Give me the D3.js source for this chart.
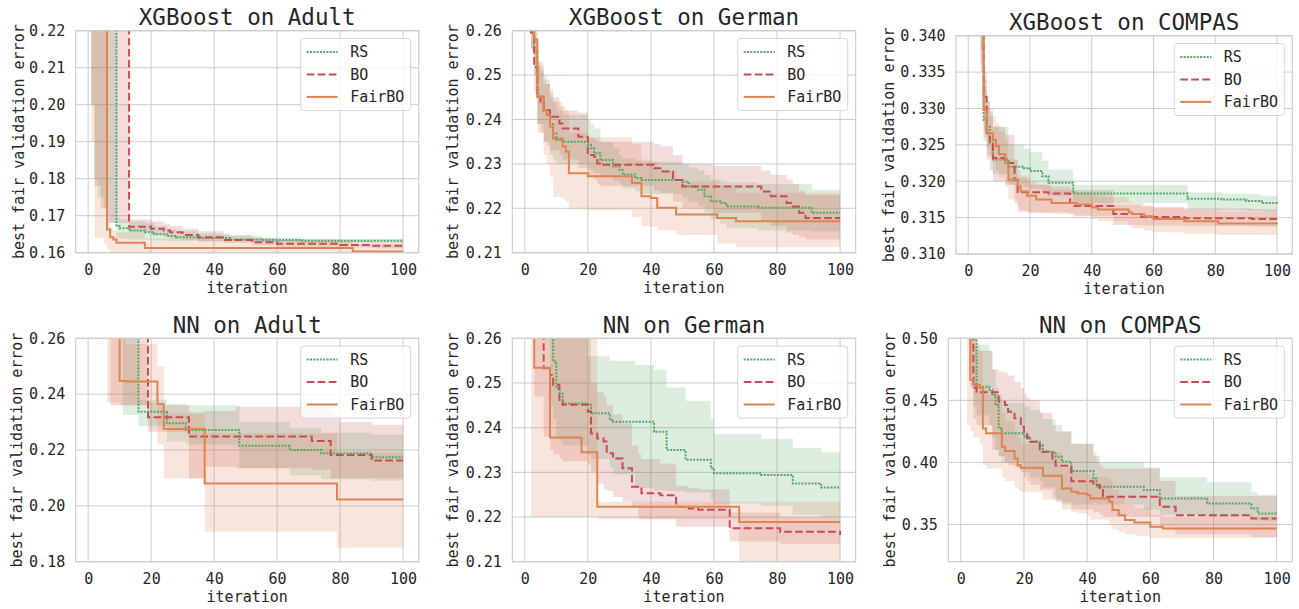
<!DOCTYPE html>
<html lang="en">

<head>
    <meta charset="UTF-8">
    <title>best fair validation error vs iteration</title>
    <style>
        * {
            margin: 0;
            padding: 0;
        }

        body {
            background: #fff;
        }

        text {
            font-family: 'DejaVu Sans Mono', monospace;
        }
    </style>
</head>

<body>
    <div id="chart"></div>
    <script src="https://cdn.jsdelivr.net/npm/d3@7"></script>
    <script>
        // each row: [iteration, mean, lower, upper]  (step changes)
        const iterTicks = [0, 20, 40, 60, 80, 100]
        const methods = ['RS', 'BO', 'FairBO']

        // XGBoost on Adult
        const xgbAdultRS = [
            [1, 0.30, 0.200, 0.40], [2, 0.30, 0.180, 0.40], [3, 0.30, 0.175, 0.40], [5, 0.30, 0.172, 0.40],
            [7, 0.28, 0.168, 0.40], [9, 0.1672, 0.1640, 0.1695], [10, 0.1666, 0.1638, 0.1690],
            [13, 0.1660, 0.1636, 0.1685], [18, 0.1655, 0.1635, 0.1680], [21, 0.1650, 0.1633, 0.1672],
            [25, 0.1645, 0.1632, 0.1665], [28, 0.1642, 0.1632, 0.1658], [35, 0.1640, 0.1631, 0.1652],
            [45, 0.1636, 0.1630, 0.1645], [55, 0.1634, 0.1629, 0.1641], [68, 0.1632, 0.1628, 0.1638],
            [100, 0.1631, 0.1627, 0.1636]
        ]
        const xgbAdultBO = [
            [1, 0.30, 0.200, 0.40], [2, 0.30, 0.178, 0.40], [4, 0.30, 0.172, 0.40], [6, 0.30, 0.168, 0.40],
            [13, 0.1670, 0.1655, 0.1690], [20, 0.1665, 0.1648, 0.1685], [24, 0.1660, 0.1642, 0.1678],
            [26, 0.1655, 0.1638, 0.1672], [30, 0.1648, 0.1634, 0.1665], [35, 0.1642, 0.1630, 0.1658],
            [43, 0.1634, 0.1626, 0.1648], [52, 0.1628, 0.1620, 0.1640], [60, 0.1624, 0.1616, 0.1635],
            [80, 0.1621, 0.1614, 0.1632], [90, 0.1619, 0.1612, 0.1630], [100, 0.1618, 0.1612, 0.1630]
        ]
        const xgbAdultFair = [
            [1, 0.30, 0.190, 0.40], [2, 0.30, 0.1640, 0.40], [5, 0.30, 0.1625, 0.40],
            [6, 0.1663, 0.1610, 0.1720], [7, 0.1642, 0.1600, 0.1668], [8, 0.1636, 0.1598, 0.1660],
            [9, 0.1627, 0.1596, 0.1655], [18, 0.1613, 0.1590, 0.1638], [40, 0.1613, 0.1590, 0.1632],
            [84, 0.1603, 0.1590, 0.1622], [100, 0.1603, 0.1590, 0.1620]
        ]

        // XGBoost on German
        const xgbGermanRS = [
            [1, 0.27, 0.262, 0.28], [2, 0.2600, 0.2560, 0.2640], [3, 0.2555, 0.2500, 0.2610],
            [4, 0.2451, 0.2390, 0.2520], [6, 0.2421, 0.2350, 0.2490], [7, 0.2413, 0.2340, 0.2480],
            [8, 0.2390, 0.2320, 0.2460], [9, 0.2369, 0.2310, 0.2440], [10, 0.2354, 0.2300, 0.2420],
            [12, 0.2350, 0.2300, 0.2410], [20, 0.2343, 0.2290, 0.2400], [21, 0.2335, 0.2285, 0.2390],
            [22, 0.2324, 0.2280, 0.2380], [24, 0.2309, 0.2270, 0.2350], [28, 0.2294, 0.2262, 0.2335],
            [30, 0.2287, 0.2255, 0.2320], [31, 0.2276, 0.2245, 0.2312], [35, 0.2268, 0.2238, 0.2308],
            [37, 0.2264, 0.2232, 0.2305], [50, 0.2260, 0.2225, 0.2300], [52, 0.2249, 0.2215, 0.2292],
            [55, 0.2242, 0.2205, 0.2285], [57, 0.2227, 0.2190, 0.2275], [59, 0.2216, 0.2175, 0.2265],
            [62, 0.2212, 0.2165, 0.2262], [64, 0.2204, 0.2155, 0.2258], [74, 0.2201, 0.2150, 0.2255],
            [91, 0.2190, 0.2148, 0.2242], [100, 0.2190, 0.2148, 0.2240]
        ]
        const xgbGermanBO = [
            [1, 0.27, 0.262, 0.28], [2, 0.2596, 0.2560, 0.2640], [3, 0.2518, 0.2460, 0.2580],
            [4, 0.2451, 0.2390, 0.2530], [5, 0.2440, 0.2370, 0.2510], [6, 0.2421, 0.2350, 0.2480],
            [8, 0.2406, 0.2330, 0.2450], [11, 0.2391, 0.2320, 0.2430], [12, 0.2380, 0.2310, 0.2420],
            [17, 0.2361, 0.2290, 0.2415], [20, 0.2320, 0.2270, 0.2360], [22, 0.2316, 0.2265, 0.2355],
            [23, 0.2301, 0.2255, 0.2350], [24, 0.2298, 0.2250, 0.2350], [41, 0.2290, 0.2240, 0.2345],
            [43, 0.2283, 0.2235, 0.2340], [47, 0.2264, 0.2215, 0.2320], [50, 0.2249, 0.2200, 0.2300],
            [60, 0.2249, 0.2190, 0.2295], [75, 0.2238, 0.2170, 0.2285], [78, 0.2227, 0.2160, 0.2275],
            [83, 0.2212, 0.2145, 0.2265], [85, 0.2204, 0.2140, 0.2255], [87, 0.2190, 0.2135, 0.2240],
            [89, 0.2178, 0.2130, 0.2230], [100, 0.2178, 0.2128, 0.2225]
        ]
        const xgbGermanFair = [
            [1, 0.27, 0.262, 0.28], [2, 0.2620, 0.2560, 0.2680], [3, 0.2580, 0.2500, 0.2640],
            [4, 0.2451, 0.2370, 0.2530], [6, 0.2421, 0.2320, 0.2500], [7, 0.2410, 0.2300, 0.2490],
            [8, 0.2384, 0.2270, 0.2470], [9, 0.2357, 0.2225, 0.2440], [12, 0.2339, 0.2222, 0.2430],
            [13, 0.2328, 0.2215, 0.2420], [14, 0.2279, 0.2198, 0.2370], [20, 0.2272, 0.2195, 0.2360],
            [34, 0.2257, 0.2180, 0.2345], [37, 0.2227, 0.2160, 0.2310], [40, 0.2223, 0.2158, 0.2305],
            [42, 0.2201, 0.2150, 0.2285], [48, 0.2186, 0.2140, 0.2260], [61, 0.2178, 0.2120, 0.2250],
            [67, 0.2171, 0.2112, 0.2235], [100, 0.2171, 0.2115, 0.2225]
        ]

        // XGBoost on COMPAS
        const xgbCompasRS = [
            [1, 0.36, 0.345, 0.38], [4, 0.3450, 0.3380, 0.3520], [5, 0.3284, 0.3255, 0.3330],
            [6, 0.3275, 0.3245, 0.3310], [7, 0.3261, 0.3235, 0.3295], [8, 0.3230, 0.3210, 0.3275],
            [13, 0.3220, 0.3195, 0.3250], [18, 0.3218, 0.3192, 0.3245], [20, 0.3214, 0.3190, 0.3240],
            [24, 0.3207, 0.3185, 0.3228], [26, 0.3198, 0.3180, 0.3216], [34, 0.3183, 0.3170, 0.3195],
            [71, 0.3176, 0.3160, 0.3185], [82, 0.3175, 0.3160, 0.3183], [90, 0.3173, 0.3159, 0.3182],
            [95, 0.3170, 0.3158, 0.3180], [100, 0.3169, 0.3157, 0.3180]
        ]
        const xgbCompasBO = [
            [1, 0.36, 0.345, 0.38], [4, 0.3450, 0.3360, 0.3520], [5, 0.3316, 0.3270, 0.3350],
            [6, 0.3266, 0.3230, 0.3310], [7, 0.3252, 0.3215, 0.3290], [8, 0.3232, 0.3200, 0.3275],
            [12, 0.3225, 0.3195, 0.3264], [15, 0.3202, 0.3170, 0.3230], [16, 0.3185, 0.3158, 0.3205],
            [20, 0.3185, 0.3157, 0.3195], [26, 0.3183, 0.3157, 0.3193], [33, 0.3170, 0.3155, 0.3190],
            [34, 0.3166, 0.3152, 0.3188], [47, 0.3155, 0.3140, 0.3168], [56, 0.3151, 0.3139, 0.3165],
            [70, 0.3149, 0.3138, 0.3163], [92, 0.3148, 0.3137, 0.3162], [100, 0.3148, 0.3137, 0.3162]
        ]
        const xgbCompasFair = [
            [1, 0.36, 0.345, 0.38], [4, 0.3450, 0.3350, 0.3520], [5, 0.3298, 0.3260, 0.3340],
            [6, 0.3266, 0.3235, 0.3300], [8, 0.3257, 0.3225, 0.3290], [9, 0.3248, 0.3215, 0.3280],
            [10, 0.3237, 0.3205, 0.3268], [12, 0.3225, 0.3192, 0.3255], [13, 0.3202, 0.3175, 0.3230],
            [16, 0.3193, 0.3165, 0.3215], [17, 0.3186, 0.3160, 0.3208], [19, 0.3180, 0.3157, 0.3200],
            [22, 0.3175, 0.3156, 0.3195], [27, 0.3170, 0.3155, 0.3188], [35, 0.3168, 0.3153, 0.3185],
            [40, 0.3164, 0.3148, 0.3180], [42, 0.3161, 0.3145, 0.3178], [52, 0.3157, 0.3138, 0.3172],
            [53, 0.3155, 0.3135, 0.3170], [57, 0.3152, 0.3132, 0.3167], [60, 0.3148, 0.3130, 0.3163],
            [70, 0.3145, 0.3128, 0.3160], [81, 0.3142, 0.3126, 0.3158], [100, 0.3141, 0.3125, 0.3157]
        ]

        // NN on Adult
        const nnAdultRS = [
            [1, 0.30, 0.28, 0.32], [11, 0.2700, 0.2325, 0.3000], [16, 0.2337, 0.2285, 0.2380],
            [25, 0.2296, 0.2230, 0.2365], [31, 0.2272, 0.2220, 0.2360], [48, 0.2215, 0.2135, 0.2300],
            [64, 0.2200, 0.2110, 0.2280], [74, 0.2188, 0.2095, 0.2262], [90, 0.2174, 0.2090, 0.2255],
            [100, 0.2174, 0.2090, 0.2255]
        ]
        const nnAdultBO = [
            [1, 0.30, 0.28, 0.32], [7, 0.2800, 0.2360, 0.3000], [19, 0.2317, 0.2265, 0.2370],
            [21, 0.2317, 0.2265, 0.2360], [32, 0.2248, 0.2098, 0.2335], [37, 0.2248, 0.2140, 0.2340],
            [47, 0.2248, 0.2135, 0.2355], [71, 0.2232, 0.2130, 0.2350], [77, 0.2182, 0.2099, 0.2330],
            [80, 0.2182, 0.2099, 0.2300], [90, 0.2162, 0.2099, 0.2290], [100, 0.2162, 0.2099, 0.2290]
        ]
        const nnAdultFair = [
            [1, 0.30, 0.28, 0.32], [6, 0.2800, 0.2370, 0.3000], [10, 0.2447, 0.2360, 0.2600],
            [12, 0.2445, 0.2360, 0.2580], [22, 0.2365, 0.2220, 0.2500], [24, 0.2275, 0.2098, 0.2330],
            [37, 0.2080, 0.1907, 0.2260], [79, 0.2023, 0.1850, 0.2190], [100, 0.2023, 0.1850, 0.2190]
        ]

        // NN on German
        const nnGermanRS = [
            [1, 0.28, 0.27, 0.29], [8, 0.2700, 0.2450, 0.2900], [9, 0.2548, 0.2420, 0.2700],
            [10, 0.2488, 0.2380, 0.2650], [11, 0.2477, 0.2370, 0.2640], [12, 0.2454, 0.2360, 0.2620],
            [20, 0.2451, 0.2340, 0.2600], [21, 0.2432, 0.2330, 0.2560], [27, 0.2417, 0.2310, 0.2550],
            [28, 0.2413, 0.2295, 0.2550], [35, 0.2413, 0.2265, 0.2540], [41, 0.2391, 0.2260, 0.2530],
            [45, 0.2350, 0.2258, 0.2490], [51, 0.2328, 0.2255, 0.2460], [59, 0.2309, 0.2240, 0.2420],
            [60, 0.2298, 0.2230, 0.2385], [75, 0.2294, 0.2225, 0.2375], [85, 0.2275, 0.2205, 0.2355],
            [94, 0.2266, 0.2200, 0.2345], [100, 0.2266, 0.2200, 0.2345]
        ]
        const nnGermanBO = [
            [1, 0.28, 0.27, 0.29], [3, 0.2700, 0.2470, 0.2900], [6, 0.2533, 0.2380, 0.2680],
            [8, 0.2518, 0.2350, 0.2650], [9, 0.2496, 0.2340, 0.2630], [11, 0.2458, 0.2330, 0.2600],
            [12, 0.2451, 0.2325, 0.2600], [20, 0.2436, 0.2318, 0.2560], [21, 0.2387, 0.2300, 0.2500],
            [23, 0.2376, 0.2275, 0.2480], [25, 0.2369, 0.2262, 0.2470], [26, 0.2343, 0.2258, 0.2450],
            [28, 0.2331, 0.2245, 0.2430], [31, 0.2309, 0.2235, 0.2410], [34, 0.2268, 0.2220, 0.2360],
            [36, 0.2268, 0.2197, 0.2340], [37, 0.2253, 0.2195, 0.2330], [43, 0.2249, 0.2195, 0.2320],
            [48, 0.2223, 0.2178, 0.2270], [52, 0.2219, 0.2178, 0.2265], [55, 0.2216, 0.2178, 0.2262],
            [65, 0.2175, 0.2145, 0.2210], [81, 0.2167, 0.2140, 0.2200], [100, 0.2160, 0.2130, 0.2195]
        ]
        const nnGermanFair = [
            [1, 0.28, 0.27, 0.29], [2, 0.2700, 0.2200, 0.2900], [3, 0.2534, 0.2200, 0.2800],
            [8, 0.2378, 0.2200, 0.2650], [18, 0.2345, 0.2200, 0.2600], [23, 0.2223, 0.2195, 0.2234],
            [68, 0.2189, 0.2080, 0.2234], [100, 0.2189, 0.2080, 0.2234]
        ]

        // NN on COMPAS
        const nnCompasRS = [
            [1, 0.55, 0.52, 0.58], [3, 0.5200, 0.4700, 0.5500], [4, 0.5000, 0.4450, 0.5200],
            [5, 0.4610, 0.4380, 0.4950], [9, 0.4583, 0.4300, 0.4900], [10, 0.4543, 0.4200, 0.4750],
            [11, 0.4462, 0.4100, 0.4600], [12, 0.4274, 0.4050, 0.4520], [13, 0.4234, 0.4000, 0.4480],
            [20, 0.4207, 0.3920, 0.4450], [22, 0.4167, 0.3880, 0.4420], [25, 0.4140, 0.3850, 0.4400],
            [26, 0.4086, 0.3800, 0.4350], [30, 0.4046, 0.3700, 0.4300], [32, 0.4005, 0.3660, 0.4250],
            [35, 0.3930, 0.3660, 0.4150], [42, 0.3871, 0.3680, 0.4080], [43, 0.3804, 0.3660, 0.4000],
            [58, 0.3777, 0.3620, 0.3960], [63, 0.3710, 0.3580, 0.3880], [78, 0.3669, 0.3560, 0.3840],
            [92, 0.3629, 0.3550, 0.3760], [94, 0.3589, 0.3530, 0.3740], [100, 0.3580, 0.3520, 0.3730]
        ]
        const nnCompasBO = [
            [1, 0.55, 0.52, 0.58], [3, 0.5200, 0.4600, 0.5500], [4, 0.4602, 0.4350, 0.5000],
            [5, 0.4565, 0.4300, 0.4900], [10, 0.4565, 0.4100, 0.4750], [12, 0.4489, 0.4050, 0.4730],
            [14, 0.4462, 0.4000, 0.4720], [15, 0.4409, 0.3980, 0.4700], [17, 0.4355, 0.3960, 0.4650],
            [19, 0.4288, 0.3920, 0.4600], [20, 0.4247, 0.3880, 0.4550], [21, 0.4194, 0.3850, 0.4520],
            [22, 0.4167, 0.3820, 0.4500], [25, 0.4086, 0.3780, 0.4400], [29, 0.4032, 0.3720, 0.4300],
            [30, 0.3973, 0.3680, 0.4250], [35, 0.3849, 0.3620, 0.4150], [42, 0.3817, 0.3600, 0.4050],
            [44, 0.3777, 0.3580, 0.3980], [45, 0.3723, 0.3560, 0.3950], [63, 0.3642, 0.3480, 0.3850],
            [68, 0.3575, 0.3420, 0.3730], [92, 0.3548, 0.3400, 0.3730], [100, 0.3548, 0.3400, 0.3730]
        ]
        const nnCompasFair = [
            [1, 0.55, 0.52, 0.58], [2, 0.5200, 0.4300, 0.5500], [3, 0.4664, 0.4250, 0.5000],
            [4, 0.4624, 0.4200, 0.4950], [6, 0.4602, 0.4150, 0.4900], [7, 0.4274, 0.3980, 0.4600],
            [8, 0.4234, 0.3950, 0.4550], [13, 0.4126, 0.3880, 0.4400], [14, 0.4091, 0.3850, 0.4330],
            [17, 0.4032, 0.3800, 0.4250], [18, 0.3978, 0.3780, 0.4200], [19, 0.3957, 0.3760, 0.4150],
            [26, 0.3892, 0.3700, 0.4080], [32, 0.3790, 0.3620, 0.3960], [35, 0.3763, 0.3600, 0.3930],
            [37, 0.3750, 0.3590, 0.3920], [40, 0.3737, 0.3570, 0.3900], [41, 0.3710, 0.3540, 0.3880],
            [47, 0.3683, 0.3500, 0.3860], [48, 0.3616, 0.3460, 0.3780], [50, 0.3575, 0.3440, 0.3720],
            [52, 0.3535, 0.3420, 0.3660], [55, 0.3516, 0.3410, 0.3630], [60, 0.3481, 0.3390, 0.3580],
            [64, 0.3468, 0.3390, 0.3560], [100, 0.3468, 0.3390, 0.3550]
        ]

        const titles = ['XGBoost on Adult', 'XGBoost on German', 'XGBoost on COMPAS',
            'NN on Adult', 'NN on German', 'NN on COMPAS']
        const yDomains = [[0.16, 0.22], [0.21, 0.26], [0.31, 0.34], [0.18, 0.26], [0.21, 0.26], [0.32, 0.50]]
        const yTickValues = [
            [0.16, 0.17, 0.18, 0.19, 0.20, 0.21, 0.22],
            [0.21, 0.22, 0.23, 0.24, 0.25, 0.26],
            [0.310, 0.315, 0.320, 0.325, 0.330, 0.335, 0.340],
            [0.18, 0.20, 0.22, 0.24, 0.26],
            [0.21, 0.22, 0.23, 0.24, 0.25, 0.26],
            [0.35, 0.40, 0.45, 0.50]
        ]
        const yTickFormats = ['.2f', '.2f', '.3f', '.2f', '.2f', '.2f']
        const seriesData = [
            [xgbAdultRS, xgbAdultBO, xgbAdultFair],
            [xgbGermanRS, xgbGermanBO, xgbGermanFair],
            [xgbCompasRS, xgbCompasBO, xgbCompasFair],
            [nnAdultRS, nnAdultBO, nnAdultFair],
            [nnGermanRS, nnGermanBO, nnGermanFair],
            [nnCompasRS, nnCompasBO, nnCompasFair]
        ]

        const width = 1299
        const height = 609

        // plot boxes of the six panels (each panel was its own figure)
        const frames = [
            { left: 75.7, right: 418.7, top: 30.7, bottom: 252.7, ylab: 24 },
            { left: 512.3, right: 855.7, top: 30.7, bottom: 252.7, ylab: 458 },
            { left: 956, right: 1292.3, top: 35.7, bottom: 254, ylab: 894 },
            { left: 75.7, right: 418.7, top: 338.3, bottom: 561.7, ylab: 22 },
            { left: 512.3, right: 855.7, top: 338.3, bottom: 561.7, ylab: 458 },
            { left: 948.3, right: 1292.3, top: 338.3, bottom: 561.7, ylab: 895 }
        ]

        const colors = { RS: '#55a868', BO: '#c44e52', FairBO: '#dd8452' }
        const dashes = { RS: '2,1.3', BO: '7.7,3.3', FairBO: null }
        const gridColor = '#cccccc'
        const textColor = '#262626'

        const svg = d3.select('#chart')
            .append('svg')
            .attr('width', width)
            .attr('height', height)
            .style('background', '#fff')

        const defs = svg.append('defs')

        titles.forEach((title, i) => {
            const f = frames[i]
            const x = d3.scaleLinear().domain([-3.95, 104.95]).range([f.left, f.right])
            const y = d3.scaleLinear().domain(yDomains[i]).range([f.bottom, f.top])
            const g = svg.append('g')

            defs.append('clipPath').attr('id', `clip${i}`)
                .append('rect')
                .attr('x', f.left).attr('y', f.top)
                .attr('width', f.right - f.left).attr('height', f.bottom - f.top)

            // grid
            g.append('g').selectAll('line')
                .data(iterTicks)
                .join('line')
                .attr('x1', d => x(d)).attr('x2', d => x(d))
                .attr('y1', f.top).attr('y2', f.bottom)
                .attr('stroke', gridColor).attr('stroke-width', 1)
            g.append('g').selectAll('line')
                .data(yTickValues[i])
                .join('line')
                .attr('x1', f.left).attr('x2', f.right)
                .attr('y1', d => y(d)).attr('y2', d => y(d))
                .attr('stroke', gridColor).attr('stroke-width', 1)

            // bands then lines
            const plot = g.append('g').attr('clip-path', `url(#clip${i})`)
            const area = d3.area()
                .curve(d3.curveStepAfter)
                .x(d => x(d[0]))
                .y0(d => y(d[2]))
                .y1(d => y(d[3]))
            const line = d3.line()
                .curve(d3.curveStepAfter)
                .x(d => x(d[0]))
                .y(d => y(d[1]))

            methods.forEach((m, k) => {
                plot.append('path')
                    .attr('d', area(seriesData[i][k]))
                    .attr('fill', colors[m])
                    .attr('fill-opacity', 0.2)
            })
            methods.forEach((m, k) => {
                plot.append('path')
                    .attr('d', line(seriesData[i][k]))
                    .attr('fill', 'none')
                    .attr('stroke', colors[m])
                    .attr('stroke-width', 2)
                    .attr('stroke-dasharray', dashes[m])
            })

            // frame
            g.append('rect')
                .attr('x', f.left).attr('y', f.top)
                .attr('width', f.right - f.left).attr('height', f.bottom - f.top)
                .attr('fill', 'none')
                .attr('stroke', gridColor)
                .attr('stroke-width', 1.2)

            // axes
            const xAxis = g.append('g')
                .attr('transform', `translate(0, ${f.bottom})`)
                .call(d3.axisBottom(x).tickValues(iterTicks).tickFormat(d3.format('d')).tickSize(0).tickPadding(11.5))
            const yAxis = g.append('g')
                .attr('transform', `translate(${f.left}, 0)`)
                .call(d3.axisLeft(y).tickValues(yTickValues[i]).tickFormat(d3.format(yTickFormats[i])).tickSize(0).tickPadding(10.5))
            ;[xAxis, yAxis].forEach(a => {
                a.select('.domain').remove()
                a.selectAll('text')
                    .attr('fill', textColor)
                    .style('font-size', '15px')
                    .style('font-family', "'DejaVu Sans Mono', monospace")
            })

            // labels
            g.append('text')
                .attr('x', (f.left + f.right) / 2)
                .attr('y', f.top - 5.5)
                .attr('text-anchor', 'middle')
                .attr('fill', textColor)
                .style('font-size', '22.5px')
                .text(title)

            g.append('text')
                .attr('x', (f.left + f.right) / 2)
                .attr('y', f.bottom + 40)
                .attr('text-anchor', 'middle')
                .attr('fill', textColor)
                .style('font-size', '15px')
                .text('iteration')

            g.append('text')
                .attr('transform', `translate(${f.ylab}, ${(f.top + f.bottom) / 2}) rotate(-90)`)
                .attr('text-anchor', 'middle')
                .attr('fill', textColor)
                .style('font-size', '15px')
                .text('best fair validation error')

            // legend
            const lw = 110
            const lh = 72
            const legend = g.append('g')
                .attr('transform', `translate(${f.right - 8 - lw}, ${f.top + 7.8})`)
            legend.append('rect')
                .attr('width', lw).attr('height', lh)
                .attr('rx', 3)
                .attr('fill', '#fff').attr('fill-opacity', 0.8)
                .attr('stroke', '#d6d6d6')
            const rows = legend.selectAll('g.row')
                .data(methods)
                .join('g')
                .attr('class', 'row')
                .attr('transform', (d, k) => `translate(0, ${13.4 + k * 22.5})`)
            rows.append('line')
                .attr('x1', 6).attr('x2', 37)
                .attr('stroke', d => colors[d])
                .attr('stroke-width', 2)
                .attr('stroke-dasharray', d => dashes[d])
            rows.append('text')
                .attr('x', 49.5)
                .attr('dy', '0.35em')
                .attr('fill', textColor)
                .style('font-size', '15px')
                .text(d => d)
        })
    </script>
</body>

</html>
